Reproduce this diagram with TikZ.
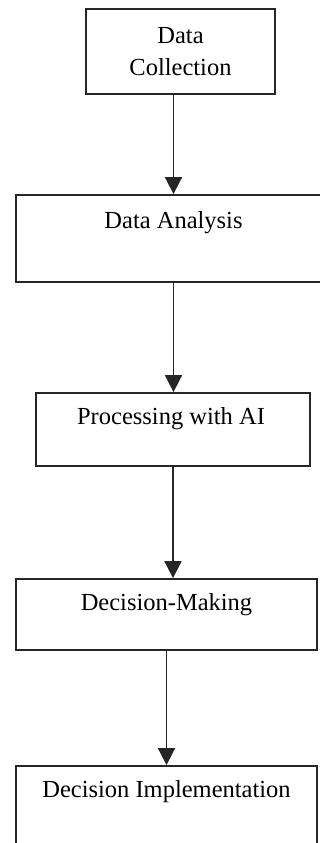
\documentclass[tikz,border=0pt]{standalone}
\usepackage{fontspec}
\setmainfont{Liberation Serif}
\usetikzlibrary{arrows.meta}
\usetikzlibrary{positioning}

\begin{document}
\begin{tikzpicture}[x=1pt,y=1pt,
	box/.style={draw=black!85,line width=1.8pt,rectangle,inner sep=0pt},
	caption/.style={font=\fontsize{24.5pt}{32pt}\selectfont,align=center,inner sep=0pt},
	flow/.style={draw=black!85,line width=1.8pt,-{Triangle[width=17pt,length=17pt]}}]

	\useasboundingbox (0,0) rectangle (320,-843);
	\clip (0,0) rectangle (320,-843);

	% the five stages, top to bottom
	\node[box,minimum width=189pt,minimum height=85pt] (coll) at (180.5,-51.5) {};
	\node[box,minimum width=315pt,minimum height=87pt] (ana) at (173.5,-238.5) {};
	\node[box,minimum width=274pt,minimum height=73pt] (proc) at (173,-429.5) {};
	\node[box,minimum width=301pt,minimum height=71pt] (dec) at (166.5,-614.5) {};
	\node[box,minimum width=301pt,minimum height=90pt] (impl) at (166.5,-811) {};

	% labels sit near the top edge of each box
	\node[caption] (collText) at (coll) {Data\\Collection};
	\node[caption,anchor=base] (anaText) at ([yshift=-34pt]ana.north) {Data Analysis};
	\node[caption,anchor=base] (procText) at ([xshift=-2pt,yshift=-32pt]proc.north) {Processing with AI};
	\node[caption,anchor=base] (decText) at ([yshift=-32.5pt]dec.north) {Decision-Making};
	\node[caption,anchor=base] (implText) at ([yshift=-32pt]impl.north) {Decision Implementation};

	\draw[flow] (ana.north |- coll.south) -- (ana.north);
	\draw[flow] (ana.south) -- (ana.south |- proc.north);
	\draw[flow] (proc.south) -- (proc.south |- dec.north);
	\draw[flow] (dec.south) -- (impl.north);
\end{tikzpicture}
\end{document}
